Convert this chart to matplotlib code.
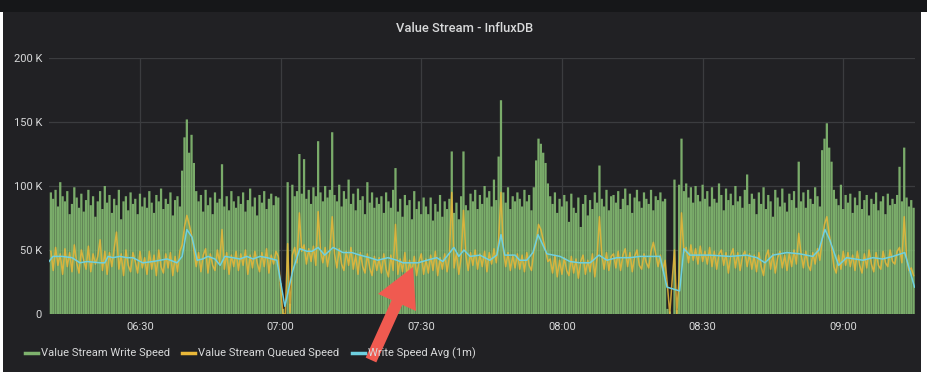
import numpy as np
import matplotlib
matplotlib.use('Agg')
from matplotlib import pyplot as plt
from matplotlib.patches import Rectangle
from matplotlib.lines import Line2D

plt.rcParams['font.family'] = ['Roboto', 'DejaVu Sans']

# --- data (values in K, time in minutes after 06:00) ---
title = 'Value Stream - InfluxDB'
series_names = ['Value Stream Write Speed', 'Value Stream Queued Speed', 'Write Speed Avg (1m)']
tick_minutes = [30, 60, 90, 120, 150, 180]
tick_labels = ['06:30', '07:00', '07:30', '08:00', '08:30', '09:00']
y_ticks = [0, 50, 100, 150, 200]
y_labels = ['0', '50 K', '100 K', '150 K', '200 K']

# one sample every 30 s from 06:11:00
write_speed = [
    95, 90, 97, 84, 103, 92, 88, 96, 78, 86, 99, 91, 83, 94, 80, 89, 97, 85, 92, 76,
    88, 96, 82, 100, 87, 93, 79, 90, 85, 97, 74, 88, 92, 81, 95, 86, 90, 78, 94, 84,
    91, 83, 96, 87, 79, 93, 88, 98, 82, 90, 86, 95, 77, 89, 92, 84, 112, 138, 152, 126,
    140, 118, 96, 88, 93, 80, 97, 85, 91, 78, 95, 87, 90, 117, 84, 92, 81, 96, 88, 83,
    92, 86, 95, 80, 89, 98, 84, 91, 77, 93, 87, 96, 82, 90, 94, 85, 92, 91, 24, 4,
    0, 103, 8, 101, 92, 96, 125, 94, 121, 90, 97, 86, 99, 92, 135, 95, 88, 100, 91, 97,
    142, 93, 88, 101, 84, 96, 90, 105, 86, 94, 81, 98, 89, 92, 78, 103, 87, 95, 83, 91,
    86, 92, 79, 95, 88, 83, 97, 114, 80, 90, 76, 93, 85, 89, 74, 96, 82, 88, 78, 91,
    84, 78, 91, 73, 86, 80, 93, 76, 88, 82, 90, 127, 79, 87, 74, 92, 127, 85, 81, 94,
    88, 97, 82, 93, 86, 100, 91, 96, 84, 105, 89, 123, 167, 95, 87, 99, 82, 92, 88, 95,
    90, 84, 97, 88, 93, 81, 99, 120, 137, 133, 126, 118, 102, 92, 86, 95, 79, 90, 84, 93,
    88, 72, 94, 83, 79, 91, 68, 86, 93, 77, 89, 82, 95, 87, 116, 90, 84, 97, 81, 92,
    93, 87, 96, 82, 90, 98, 85, 94, 79, 91, 97, 88, 83, 95, 90, 86, 97, 81, 92, 89,
    95, 88, 90, 4, 2, 0, 105, 3, 101, 137, 96, 102, 91, 99, 87, 100, 93, 88, 101, 90,
    96, 84, 99, 90, 87, 102, 93, 81, 98, 89, 94, 85, 100, 88, 92, 83, 97, 109, 86, 94,
    90, 78, 95, 86, 99, 82, 93, 88, 76, 97, 91, 84, 98, 87, 80, 94, 89, 96, 83, 119,
    88, 95, 83, 97, 90, 86, 99, 92, 84, 128, 137, 149, 130, 119, 97, 90, 85, 101, 82, 93,
    87, 94, 79, 91, 85, 96, 82, 89, 93, 77, 90, 86, 95, 81, 88, 92, 78, 94, 85, 90,
    86, 93, 115, 88, 130, 91, 84, 89, 83,
]

queued_speed = [
    49, 34, 52, 38, 47, 31, 51, 37, 48, 33, 54, 40, 32, 50, 42, 35, 53, 33, 47, 39,
    45, 58, 34, 49, 31, 48, 37, 51, 64, 35, 47, 30, 50, 38, 33, 48, 41, 32, 49, 36,
    44, 31, 49, 35, 46, 30, 50, 37, 32, 47, 36, 48, 30, 45, 33, 49, 54, 68, 77, 70,
    62, 50, 37, 48, 33, 46, 51, 32, 47, 38, 34, 50, 40, 66, 35, 48, 31, 46, 37, 49,
    34, 47, 38, 50, 31, 46, 36, 49, 40, 33, 48, 37, 51, 32, 46, 39, 49, 45, 20, 0,
    0, 55, 1, 46, 52, 40, 79, 49, 54, 39, 51, 41, 53, 38, 80, 50, 40, 52, 37, 49,
    76, 47, 36, 51, 39, 34, 49, 38, 52, 35, 46, 31, 48, 37, 32, 47, 36, 30, 45, 34,
    44, 32, 47, 35, 29, 46, 34, 70, 31, 43, 33, 48, 28, 42, 32, 45, 30, 41, 47, 31,
    43, 32, 46, 34, 49, 30, 44, 35, 47, 33, 45, 95, 36, 48, 31, 44, 81, 46, 34, 48,
    38, 50, 35, 47, 37, 49, 33, 48, 39, 51, 40, 58, 95, 50, 37, 48, 34, 46, 36, 47,
    35, 46, 33, 48, 38, 34, 49, 55, 70, 66, 58, 50, 41, 43, 32, 46, 29, 42, 31, 44,
    34, 30, 45, 32, 43, 28, 41, 46, 31, 42, 33, 47, 29, 44, 76, 46, 35, 48, 34, 45,
    47, 36, 49, 34, 46, 51, 37, 48, 33, 45, 50, 38, 35, 47, 40, 36, 49, 56, 47, 37,
    46, 34, 42, 22, 0, 26, 50, 0, 30, 79, 48, 52, 40, 54, 42, 51, 39, 53, 41, 49,
    39, 52, 37, 49, 35, 47, 50, 38, 48, 32, 46, 51, 36, 48, 34, 45, 49, 37, 47, 35,
    46, 33, 48, 37, 30, 45, 50, 35, 47, 32, 44, 49, 36, 46, 34, 48, 37, 50, 39, 63,
    47, 36, 49, 38, 34, 48, 39, 51, 42, 58, 70, 76, 62, 52, 37, 32, 46, 35, 49, 38,
    48, 37, 46, 34, 49, 38, 32, 47, 36, 50, 39, 33, 48, 38, 35, 49, 40, 37, 50, 41,
    39, 49, 52, 40, 76, 44, 34, 36, 30,
]

avg_minutes = [
    10.6, 11.45, 13.4, 15.5, 17.2, 18.7, 21.5, 22.5, 23.2, 24.2, 25.7, 27.2, 28.5, 30.6,
    32.8, 35.8, 37.9, 39.0, 40.0, 41.1, 42.2, 43.4, 44.5, 46.0, 47.1, 48.1, 49.8, 51.3,
    52.8, 54.1, 55.6, 57.1, 59.2, 60.9, 62.6, 64.1, 65.6, 66.7, 68.0, 69.4, 71.2, 73.3,
    75.2, 76.9, 79.0, 80.7, 82.9, 84.8, 86.1, 88.0, 89.3, 91.2, 93.3, 94.6, 96.95, 98.0,
    99.1, 100.4, 102.5, 104.6, 106.1, 107.0, 107.8, 110.0, 111.0, 112.5, 113.8, 114.9,
    116.8, 119.6, 121.7, 123.8, 126.0, 127.9, 129.6, 131.7, 134.5, 136.6, 140.9, 142.4,
    145.1, 146.0, 147.3, 151.5, 155.8, 159.4, 161.6, 163.3, 165.0, 168.0, 170.7, 173.5,
    174.8, 176.1, 177.1, 179.0, 180.7, 184.2, 186.3, 188.4, 190.6, 193.1, 195.2,
]
avg_speed = [
    41, 45, 45, 44, 40, 41, 40, 40, 45, 44, 45, 44, 44, 40,
    41, 43, 40, 45, 66, 60, 42, 43, 45, 43, 38, 45, 44, 43,
    45, 43, 45, 44, 42, 6, 34, 51, 49, 49, 52, 46, 52, 48,
    48, 46, 44, 42, 44, 42, 40, 40, 40, 42, 44, 41, 52, 45,
    50, 45, 46, 42, 46, 62, 46, 46, 42, 42, 48, 62,
    47, 45, 41, 40, 40, 46, 42, 44, 44, 45, 45, 21,
    18, 51, 46, 46, 45, 46, 44, 40, 46, 48, 47, 45,
    50, 66, 58, 38, 44, 42, 44, 43, 45, 48, 21,
]

bar_minutes = np.arange(len(write_speed)) * 0.5 + 11.0

W, H = 927, 377
fig = plt.figure(figsize=(W / 100, H / 100), dpi=100, facecolor='white')

# panel background
fig.add_artist(Rectangle((3 / W, 5 / H), 918 / W, 360 / H, transform=fig.transFigure,
                         facecolor='#212124', edgecolor='none', zorder=-10))
fig.add_artist(Rectangle((0, 1 - 12 / H), 1, 12 / H, transform=fig.transFigure,
                         facecolor='#161719', edgecolor='none', zorder=-10))

ax = fig.add_axes([49 / W, 1 - 314 / H, 866 / W, 256 / H])
ax.set_facecolor('none')

bars = ax.bar(bar_minutes, write_speed, width=0.48, color='#80b56f', alpha=0.95,
              linewidth=0, zorder=2)
for b in bars:
    b.set_snap(False)
ax.plot(bar_minutes, queued_speed, color='#eab839', lw=1.1, alpha=0.85, zorder=3)
ax.plot(avg_minutes, avg_speed, color='#6ed0e0', lw=1.1, zorder=4)

ax.set_xlim(10.6, 195.3)
ax.set_ylim(0, 200)
ax.set_xticks(tick_minutes)
ax.set_xticklabels(tick_labels)
ax.set_yticks(y_ticks)
ax.set_yticklabels(y_labels)
ax.grid(True, color='#3b3c3f', lw=0.9, zorder=0)
ax.set_axisbelow(True)
for s in ax.spines.values():
    s.set_visible(False)
ax.tick_params(length=0, colors='#d8d9da', labelsize=8)
ax.tick_params(axis='x', pad=6)
ax.tick_params(axis='y', pad=5)

fig.text(465 / W, 1 - 28 / H, title, ha='center', va='center', color='#d8d9da',
         fontsize=9.3, fontweight='medium')

# legend
leg_colors = ['#7eb26d', '#eab839', '#6ed0e0']
leg_x = [25, 182, 352]
ly = 1 - 353 / H
for name, c, x in zip(series_names, leg_colors, leg_x):
    fig.add_artist(Line2D([x / W, (x + 13) / W], [ly, ly], transform=fig.transFigure,
                          color=c, lw=2.5))
    fig.text((x + 16) / W, ly, name, ha='left', va='center', color='#d8d9da', fontsize=8)

# red annotation arrow
ax.annotate('', xy=(413, H - 267), xytext=(371, H - 360), xycoords='figure pixels',
            textcoords='figure pixels', annotation_clip=False,
            arrowprops=dict(arrowstyle='simple,head_width=1.5,head_length=1.4,tail_width=0.42',
                            mutation_scale=20, color='#f05a50', lw=0, shrinkA=0, shrinkB=0))

fig.savefig('out.png', dpi=100, facecolor='white')
